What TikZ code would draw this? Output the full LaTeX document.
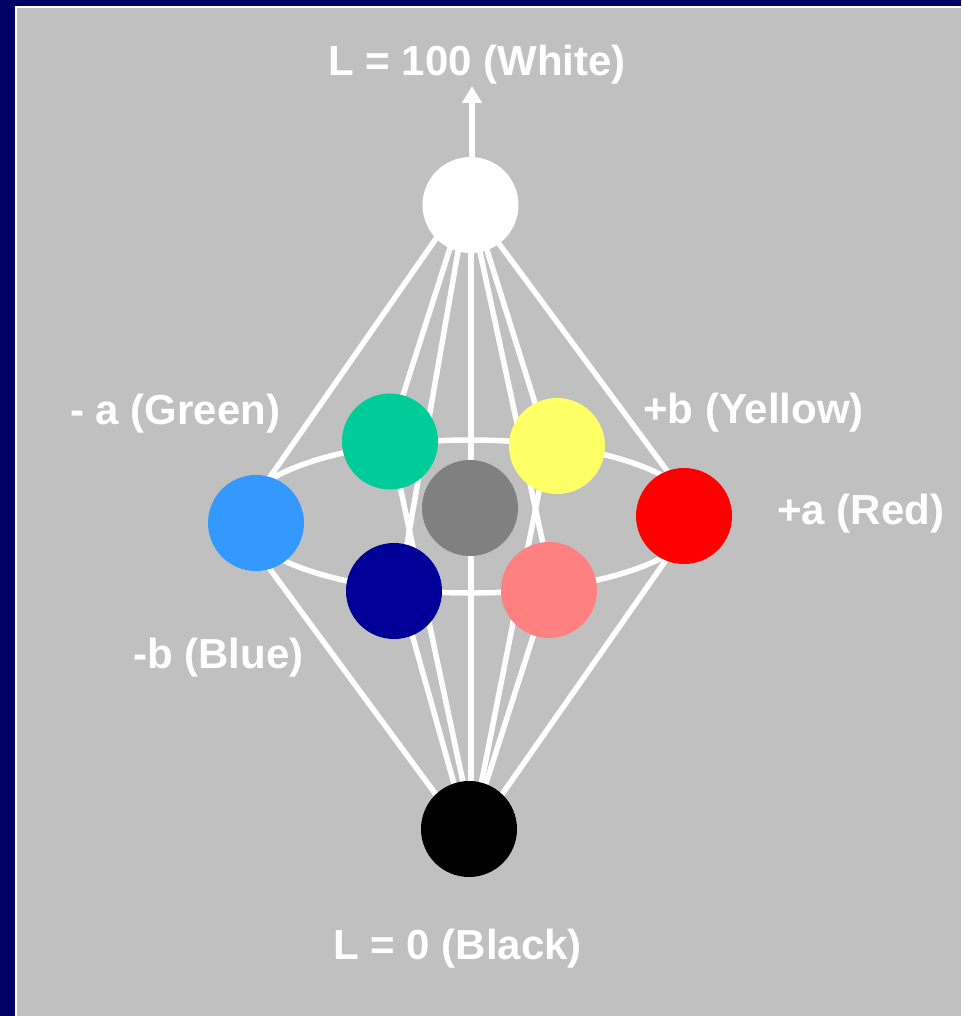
\documentclass[tikz,border=0pt]{standalone}
\usepackage{fontspec}
\setmainfont{Liberation Sans}
\usetikzlibrary{arrows.meta}
\definecolor{navyframe}{HTML}{000066}
\definecolor{panel}{HTML}{C0C0C0}
\definecolor{cblue}{HTML}{3399FF}
\definecolor{cgreen}{HTML}{00CC99}
\definecolor{cyellow}{HTML}{FFFF66}
\definecolor{cred}{HTML}{FF0000}
\definecolor{cnavy}{HTML}{000099}
\definecolor{cpink}{HTML}{FF8080}
\definecolor{cgray}{HTML}{808080}
\begin{document}
\begin{tikzpicture}[x=1pt,y=-1pt,
  ball/.style={circle, minimum size=96pt, inner sep=0pt, draw=none},
  spoke/.style={draw=white, line width=5.5pt},
  lab/.style={text=white, inner sep=0pt, anchor=base west, font=\fontsize{42}{50}\selectfont\bfseries}]
\useasboundingbox (0,0) rectangle (961,1016);
\fill[navyframe] (0,0) rectangle (961,1016);
\fill[panel] (17,8) rectangle (961,1016);
\draw[white, line width=1.5pt] (16,1016) -- (16,7) -- (961,7);

% spoke end points (hidden under the balls)
\coordinate (w1) at (452.4,215); \coordinate (e1) at (254,500);
\coordinate (w2) at (460.6,215); \coordinate (e2) at (391.8,430);
\coordinate (w3) at (464.4,215); \coordinate (e3) at (399,590);
\coordinate (w4) at (471,215);   \coordinate (e4) at (471,820);
\coordinate (w5) at (472,215);   \coordinate (e5) at (553,590);
\coordinate (w6) at (476,215);   \coordinate (e6) at (546.6,440);
\coordinate (w7) at (477.8,215); \coordinate (e7) at (688.6,500);
\coordinate (k1) at (451,815);   \coordinate (f1) at (248.5,540);
\coordinate (k2) at (462.8,815); \coordinate (f2) at (399.6,590);
\coordinate (k3) at (470,815);   \coordinate (f3) at (390.4,441);
\coordinate (k5) at (475,815);   \coordinate (f5) at (548,446);
\coordinate (k6) at (475.8,815); \coordinate (f6) at (548,590);
\coordinate (k7) at (487.6,815); \coordinate (f7) at (687,530);
\coordinate (ring) at (470,516.5);
\coordinate (arrowtip) at (472,86);

\foreach \i in {1,...,7} {\draw[spoke] (w\i) -- (e\i);}
\foreach \i in {1,2,3,5,6,7} {\draw[spoke] (k\i) -- (f\i);}
\draw[spoke] (ring) ellipse [x radius=228, y radius=76.5];

\node[ball, fill=white]   (white) at (470.5,205) {};
\node[ball, fill=black]   (black) at (469,829) {};
\node[ball, fill=cgray]   (gray)  at (470,508) {};
\node[ball, fill=cblue]   (blue)  at (256,523) {};
\node[ball, fill=cred]    (red)   at (684,516) {};
\node[ball, fill=cgreen]  (green) at (390,441.5) {};
\node[ball, fill=cyellow] (yellow) at (557,446) {};
\node[ball, fill=cnavy]   (navy)  at (394,591) {};
\node[ball, fill=cpink]   (pink)  at (549,590) {};

\draw[white, line width=6pt, -{Triangle[width=19pt,length=17pt]}] (white.north -| arrowtip) -- (arrowtip);

\node[lab] (tWhite) at (328,76) {L = 100 (White)};
\node[lab] (tGreen) at (70,424.5) {- a (Green)};
\node[lab] (tYellow) at (643,423.5) {+b (Yellow)};
\node[lab] (tRed) at (777,524.5) {+a (Red)};
\node[lab] (tBlue) at (133,668) {-b (Blue)};
\node[lab] (tBlack) at (333,959.5) {L = 0 (Black)};
\end{tikzpicture}
\end{document}
